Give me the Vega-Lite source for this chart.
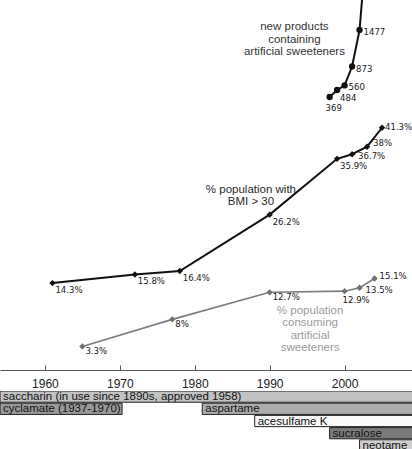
{
  "$schema": "https://vega.github.io/schema/vega-lite/v6.json",
  "padding": 0,
  "background": "white",
  "spacing": 2,
  "resolve": {"scale": {"color": "independent"}},
  "config": {"view": {"stroke": null}, "font": "Liberation Sans"},
  "datasets": {
    "obesity": [
      {"year": 1961, "value": 14.3, "label": "14.3%"},
      {"year": 1972, "value": 15.8, "label": "15.8%"},
      {"year": 1978, "value": 16.4, "label": "16.4%"},
      {"year": 1990, "value": 26.2, "label": "26.2%"},
      {"year": 1999, "value": 35.9, "label": "35.9%"},
      {"year": 2001, "value": 36.7, "label": "36.7%"},
      {"year": 2003, "value": 38.0, "label": "38%"},
      {"year": 2005, "value": 41.3, "label": "41.3%"}
    ],
    "consumption": [
      {"year": 1965, "value": 3.3, "label": "3.3%"},
      {"year": 1977, "value": 8.0, "label": "8%"},
      {"year": 1990, "value": 12.7, "label": "12.7%"},
      {"year": 2000, "value": 12.9, "label": "12.9%"},
      {"year": 2002, "value": 13.5, "label": "13.5%"},
      {"year": 2004, "value": 15.1, "label": "15.1%"}
    ],
    "products": [
      {"year": 1998, "count": 369, "label": "369"},
      {"year": 1999, "count": 484, "label": "484"},
      {"year": 2000, "count": 560, "label": "560"},
      {"year": 2001, "count": 873, "label": "873"},
      {"year": 2002, "count": 1477, "label": "1477"},
      {"year": 2003, "count": 3000, "label": ""}
    ],
    "notes": [
      {"year": 1993.3, "value": 59.8, "series": "products", "text": "new products\ncontaining\nartificial sweeteners"},
      {"year": 1987.5, "value": 31.6, "series": "obesity", "text": "% population with\nBMI > 30"},
      {"year": 1995.4, "value": 10.5, "series": "consumption", "text": "% population\nconsuming\nartificial\nsweeteners"}
    ],
    "sweeteners": [
      {"sweetener": "saccharin", "label": "saccharin (in use since 1890s, approved 1958)", "row": 1, "start": 1954, "end": 2010},
      {"sweetener": "cyclamate", "label": "cyclamate (1937-1970)", "row": 2, "start": 1954, "end": 1970.3},
      {"sweetener": "aspartame", "label": "aspartame", "row": 2, "start": 1981, "end": 2010},
      {"sweetener": "acesulfame K", "label": "acesulfame K", "row": 3, "start": 1988, "end": 2010},
      {"sweetener": "sucralose", "label": "sucralose", "row": 4, "start": 1998, "end": 2010},
      {"sweetener": "neotame", "label": "neotame", "row": 5, "start": 2002, "end": 2010}
    ]
  },
  "vconcat": [
    {
      "width": 412,
      "height": 370,
      "encoding": {
        "x": {
          "field": "year", "type": "quantitative",
          "scale": {"domain": [1954, 2009], "nice": false, "zero": false},
          "axis": {
            "title": null, "values": [1960, 1970, 1980, 1990, 2000], "format": "d",
            "grid": false, "domainColor": "#555", "tickColor": "#555", "tickSize": -5,
            "labelPadding": 13, "labelFontSize": 12, "labelColor": "#222", "labelFont": "Liberation Sans"
          }
        }
      },
      "layer": [
        {
          "data": {"name": "obesity"},
          "mark": {"type": "line", "color": "#111", "strokeWidth": 2},
          "encoding": {"y": {"field": "value", "type": "quantitative", "scale": {"domain": [-0.8, 63.5], "nice": false, "zero": false}, "axis": null}}
        },
        {
          "data": {"name": "obesity"},
          "mark": {"type": "point", "shape": "diamond", "filled": true, "color": "#111", "size": 40, "opacity": 1},
          "encoding": {"y": {"field": "value", "type": "quantitative", "scale": {"domain": [-0.8, 63.5], "nice": false, "zero": false}, "axis": null}}
        },
        {
          "data": {"name": "obesity"},
          "transform": [{"filter": "datum.year <= 1999"}],
          "mark": {"type": "text", "align": "left", "baseline": "middle", "dx": 3, "dy": 7, "fontSize": 9.5, "font": "Liberation Sans Narrow, DejaVu Sans Condensed, sans-serif", "color": "#1a1a1a"},
          "encoding": {
            "y": {"field": "value", "type": "quantitative", "scale": {"domain": [-0.8, 63.5], "nice": false, "zero": false}, "axis": null},
            "text": {"field": "label"}
          }
        },
        {
          "data": {"name": "obesity"},
          "transform": [{"filter": "datum.year == 2001"}],
          "mark": {"type": "text", "align": "left", "baseline": "middle", "dx": 6, "dy": 2, "fontSize": 9.5, "font": "Liberation Sans Narrow, DejaVu Sans Condensed, sans-serif", "color": "#1a1a1a"},
          "encoding": {
            "y": {"field": "value", "type": "quantitative", "scale": {"domain": [-0.8, 63.5], "nice": false, "zero": false}, "axis": null},
            "text": {"field": "label"}
          }
        },
        {
          "data": {"name": "obesity"},
          "transform": [{"filter": "datum.year == 2003"}],
          "mark": {"type": "text", "align": "left", "baseline": "middle", "dx": 6, "dy": -4, "fontSize": 9.5, "font": "Liberation Sans Narrow, DejaVu Sans Condensed, sans-serif", "color": "#1a1a1a"},
          "encoding": {
            "y": {"field": "value", "type": "quantitative", "scale": {"domain": [-0.8, 63.5], "nice": false, "zero": false}, "axis": null},
            "text": {"field": "label"}
          }
        },
        {
          "data": {"name": "obesity"},
          "transform": [{"filter": "datum.year >= 2005"}],
          "mark": {"type": "text", "align": "left", "baseline": "middle", "dx": 3, "dy": -1, "fontSize": 9.5, "font": "Liberation Sans Narrow, DejaVu Sans Condensed, sans-serif", "color": "#1a1a1a"},
          "encoding": {
            "y": {"field": "value", "type": "quantitative", "scale": {"domain": [-0.8, 63.5], "nice": false, "zero": false}, "axis": null},
            "text": {"field": "label"}
          }
        },
        {
          "data": {"name": "consumption"},
          "mark": {"type": "line", "color": "#7d7d7d", "strokeWidth": 1.6},
          "encoding": {"y": {"field": "value", "type": "quantitative", "scale": {"domain": [-0.8, 63.5], "nice": false, "zero": false}, "axis": null}}
        },
        {
          "data": {"name": "consumption"},
          "mark": {"type": "point", "shape": "diamond", "filled": true, "color": "#707070", "size": 40, "opacity": 1},
          "encoding": {"y": {"field": "value", "type": "quantitative", "scale": {"domain": [-0.8, 63.5], "nice": false, "zero": false}, "axis": null}}
        },
        {
          "data": {"name": "consumption"},
          "transform": [{"filter": "datum.year <= 1990"}],
          "mark": {"type": "text", "align": "left", "baseline": "middle", "dx": 3, "dy": 5, "fontSize": 9.5, "font": "Liberation Sans Narrow, DejaVu Sans Condensed, sans-serif", "color": "#1a1a1a"},
          "encoding": {
            "y": {"field": "value", "type": "quantitative", "scale": {"domain": [-0.8, 63.5], "nice": false, "zero": false}, "axis": null},
            "text": {"field": "label"}
          }
        },
        {
          "data": {"name": "consumption"},
          "transform": [{"filter": "datum.year == 2000"}],
          "mark": {"type": "text", "align": "left", "baseline": "middle", "dx": -2, "dy": 9, "fontSize": 9.5, "font": "Liberation Sans Narrow, DejaVu Sans Condensed, sans-serif", "color": "#1a1a1a"},
          "encoding": {
            "y": {"field": "value", "type": "quantitative", "scale": {"domain": [-0.8, 63.5], "nice": false, "zero": false}, "axis": null},
            "text": {"field": "label"}
          }
        },
        {
          "data": {"name": "consumption"},
          "transform": [{"filter": "datum.year == 2002"}],
          "mark": {"type": "text", "align": "left", "baseline": "middle", "dx": 6, "dy": 2, "fontSize": 9.5, "font": "Liberation Sans Narrow, DejaVu Sans Condensed, sans-serif", "color": "#1a1a1a"},
          "encoding": {
            "y": {"field": "value", "type": "quantitative", "scale": {"domain": [-0.8, 63.5], "nice": false, "zero": false}, "axis": null},
            "text": {"field": "label"}
          }
        },
        {
          "data": {"name": "consumption"},
          "transform": [{"filter": "datum.year >= 2004"}],
          "mark": {"type": "text", "align": "left", "baseline": "middle", "dx": 5, "dy": -3, "fontSize": 9.5, "font": "Liberation Sans Narrow, DejaVu Sans Condensed, sans-serif", "color": "#1a1a1a"},
          "encoding": {
            "y": {"field": "value", "type": "quantitative", "scale": {"domain": [-0.8, 63.5], "nice": false, "zero": false}, "axis": null},
            "text": {"field": "label"}
          }
        },
        {
          "data": {"name": "products"},
          "mark": {"type": "line", "color": "#111", "strokeWidth": 2, "clip": true},
          "encoding": {"y": {"field": "count", "type": "quantitative", "scale": {"domain": [-4146, 1973], "nice": false, "zero": false}, "axis": null}}
        },
        {
          "data": {"name": "products"},
          "transform": [{"filter": "datum.count < 1973"}],
          "mark": {"type": "point", "shape": "circle", "filled": true, "color": "#111", "size": 40, "opacity": 1},
          "encoding": {"y": {"field": "count", "type": "quantitative", "scale": {"domain": [-4146, 1973], "nice": false, "zero": false}, "axis": null}}
        },
        {
          "data": {"name": "products"},
          "transform": [{"filter": "datum.count < 400"}],
          "mark": {"type": "text", "align": "left", "baseline": "middle", "dx": -4, "dy": 11, "fontSize": 9.5, "font": "Liberation Sans Narrow, DejaVu Sans Condensed, sans-serif", "color": "#1a1a1a"},
          "encoding": {
            "y": {"field": "count", "type": "quantitative", "scale": {"domain": [-4146, 1973], "nice": false, "zero": false}, "axis": null},
            "text": {"field": "label"}
          }
        },
        {
          "data": {"name": "products"},
          "transform": [{"filter": "datum.count > 400 && datum.count < 500"}],
          "mark": {"type": "text", "align": "left", "baseline": "middle", "dx": 3, "dy": 8, "fontSize": 9.5, "font": "Liberation Sans Narrow, DejaVu Sans Condensed, sans-serif", "color": "#1a1a1a"},
          "encoding": {
            "y": {"field": "count", "type": "quantitative", "scale": {"domain": [-4146, 1973], "nice": false, "zero": false}, "axis": null},
            "text": {"field": "label"}
          }
        },
        {
          "data": {"name": "products"},
          "transform": [{"filter": "datum.count > 500 && datum.count < 1973"}],
          "mark": {"type": "text", "align": "left", "baseline": "middle", "dx": 4, "dy": 2, "fontSize": 9.5, "font": "Liberation Sans Narrow, DejaVu Sans Condensed, sans-serif", "color": "#1a1a1a"},
          "encoding": {
            "y": {"field": "count", "type": "quantitative", "scale": {"domain": [-4146, 1973], "nice": false, "zero": false}, "axis": null},
            "text": {"field": "label"}
          }
        },
        {
          "data": {"name": "notes"},
          "mark": {"type": "text", "align": "center", "baseline": "top", "lineBreak": "\n", "fontSize": 11.5, "lineHeight": 12.5, "font": "Liberation Sans"},
          "encoding": {
            "y": {"field": "value", "type": "quantitative", "scale": {"domain": [-0.8, 63.5], "nice": false, "zero": false}, "axis": null},
            "text": {"field": "text"},
            "color": {"field": "series", "type": "nominal", "scale": {"domain": ["products", "obesity", "consumption"], "range": ["#333333", "#2a2a2a", "#9a9a9a"]}, "legend": null}
          }
        }
      ],
      "resolve": {"scale": {"y": "independent"}}
    },
    {
      "width": 412,
      "height": 60,
      "data": {"name": "sweeteners"},
      "encoding": {
        "x": {"field": "start", "type": "quantitative", "scale": {"domain": [1954, 2009], "nice": false, "zero": false}, "axis": null},
        "y": {"field": "row", "type": "ordinal", "scale": {"paddingInner": 0.08, "paddingOuter": 0}, "axis": null}
      },
      "layer": [
        {
          "mark": {"type": "bar", "stroke": "#222", "strokeWidth": 1, "clip": true},
          "encoding": {
            "x2": {"field": "end"},
            "color": {
              "field": "sweetener", "type": "nominal", "legend": null,
              "scale": {"domain": ["saccharin", "cyclamate", "aspartame", "acesulfame K", "sucralose", "neotame"], "range": ["#c2c2c2", "#999999", "#adadad", "#fafafa", "#7a7a7a", "#cfcfcf"]}
            }
          }
        },
        {
          "mark": {"type": "text", "align": "left", "baseline": "middle", "dx": 3, "dy": 0.5, "fontSize": 11.5, "color": "#111", "font": "Liberation Sans"},
          "encoding": {"text": {"field": "label"}}
        }
      ]
    }
  ]
}
